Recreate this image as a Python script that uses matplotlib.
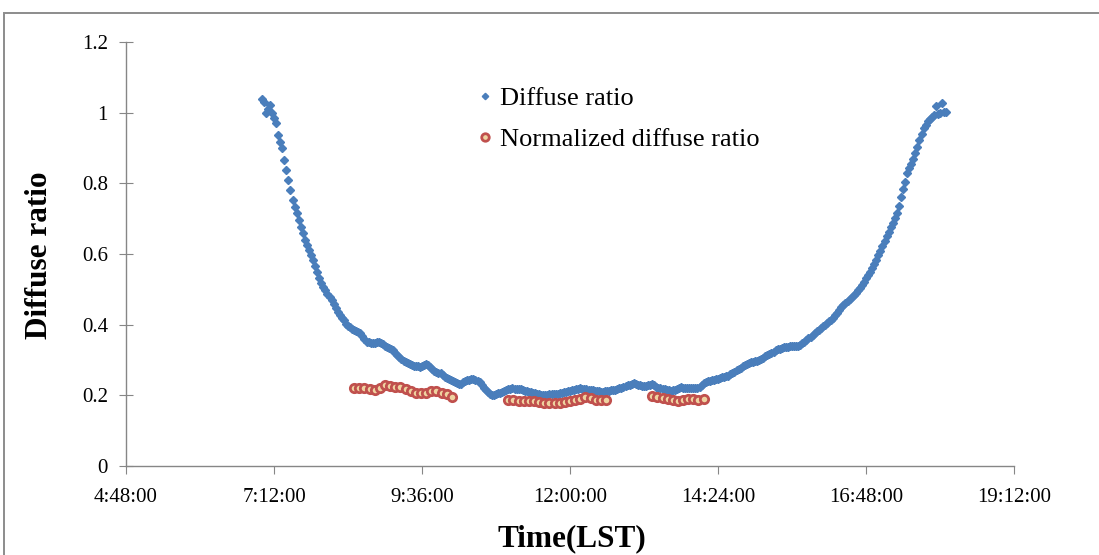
"""
Diffuse ratio vs. local solar time, with the normalized diffuse ratio
for the clear-sky windows.
"""

import matplotlib
matplotlib.use("Agg")
import matplotlib.pyplot as plt
import matplotlib.ticker as mticker
from matplotlib.patches import Rectangle
import numpy as np

# ── Data ────────────────────────────────────────────────────────────────────
# Diffuse ratio, read every 2 minutes starting 7:00 (minutes since midnight)
DIFF_START_MIN = 420
DIFF_STEP_MIN = 2

diffuse_morning = [  # 7:00 - 10:38
    1.038, 1.030, 1.000, 1.010, 1.022, 0.998, 0.985, 0.970, 0.937, 0.918,
    0.899, 0.866, 0.838, 0.810, 0.781, 0.753, 0.734, 0.715, 0.696, 0.677,
    0.659, 0.640, 0.626, 0.611, 0.597, 0.583, 0.566, 0.550, 0.533, 0.517,
    0.507, 0.498, 0.488, 0.479, 0.470, 0.459, 0.448, 0.437, 0.428, 0.420,
    0.412, 0.403, 0.397, 0.392, 0.387, 0.384, 0.381, 0.378, 0.376, 0.368,
    0.360, 0.352, 0.350, 0.348, 0.347, 0.349, 0.351, 0.352, 0.348, 0.344,
    0.341, 0.338, 0.335, 0.331, 0.328, 0.321, 0.315, 0.308, 0.303, 0.298,
    0.294, 0.291, 0.288, 0.286, 0.284, 0.283, 0.282, 0.281, 0.283, 0.286,
    0.289, 0.286, 0.280, 0.275, 0.270, 0.267, 0.264, 0.262, 0.257, 0.252,
    0.248, 0.245, 0.242, 0.240, 0.238, 0.235, 0.232, 0.233, 0.237, 0.241,
    0.243, 0.244, 0.245, 0.245, 0.243, 0.241, 0.239, 0.230, 0.220, 0.215,
]
diffuse_midday = [  # 10:40 - 14:18
    0.210, 0.205, 0.201, 0.202, 0.204, 0.206, 0.208, 0.210, 0.212, 0.215,
    0.217, 0.219, 0.220, 0.219, 0.218, 0.217, 0.217, 0.215, 0.213, 0.212,
    0.210, 0.209, 0.208, 0.206, 0.204, 0.203, 0.202, 0.201, 0.201, 0.202,
    0.203, 0.203, 0.204, 0.204, 0.205, 0.206, 0.207, 0.209, 0.210, 0.211,
    0.213, 0.214, 0.216, 0.218, 0.219, 0.220, 0.219, 0.218, 0.217, 0.216,
    0.215, 0.214, 0.213, 0.212, 0.211, 0.210, 0.210, 0.211, 0.212, 0.213,
    0.214, 0.215, 0.216, 0.218, 0.220, 0.222, 0.224, 0.226, 0.228, 0.230,
    0.232, 0.234, 0.232, 0.230, 0.228, 0.226, 0.226, 0.227, 0.229, 0.230,
    0.231, 0.228, 0.225, 0.222, 0.220, 0.218, 0.217, 0.216, 0.215, 0.213,
    0.214, 0.216, 0.219, 0.221, 0.223, 0.222, 0.222, 0.221, 0.221, 0.220,
    0.220, 0.220, 0.220, 0.225, 0.230, 0.235, 0.239, 0.240, 0.241, 0.243,
]
diffuse_afternoon = [  # 14:20 - 18:06
    0.244, 0.246, 0.247, 0.249, 0.251, 0.252, 0.254, 0.256, 0.261, 0.264,
    0.267, 0.271, 0.274, 0.278, 0.282, 0.286, 0.290, 0.292, 0.293, 0.294,
    0.296, 0.297, 0.300, 0.304, 0.307, 0.311, 0.314, 0.317, 0.320, 0.323,
    0.327, 0.330, 0.332, 0.334, 0.336, 0.337, 0.338, 0.339, 0.339, 0.340,
    0.340, 0.341, 0.342, 0.347, 0.352, 0.356, 0.361, 0.366, 0.371, 0.376,
    0.381, 0.385, 0.390, 0.395, 0.399, 0.404, 0.409, 0.413, 0.420, 0.427,
    0.434, 0.441, 0.449, 0.455, 0.461, 0.467, 0.472, 0.478, 0.485, 0.491,
    0.497, 0.504, 0.511, 0.521, 0.531, 0.540, 0.550, 0.561, 0.573, 0.584,
    0.596, 0.609, 0.623, 0.637, 0.650, 0.662, 0.675, 0.687, 0.702, 0.717,
    0.737, 0.760, 0.783, 0.805, 0.828, 0.842, 0.856, 0.869, 0.885, 0.904,
    0.922, 0.941, 0.956, 0.966, 0.975, 0.981, 0.987, 0.993, 1.019, 0.996,
    0.999, 1.027, 1.001, 1.003,
]

# Normalized diffuse ratio, every 5 minutes in three windows
NORM_STEP_MIN = 5
norm_starts_min = [510, 660, 800]  # 8:30, 11:00, 13:20
norm_win1 = [0.222, 0.222, 0.221, 0.218, 0.216, 0.222, 0.230, 0.226, 0.224, 0.225,
             0.217, 0.211, 0.207, 0.206, 0.208, 0.212, 0.211, 0.208, 0.203, 0.194]
norm_win2 = [0.186, 0.186, 0.185, 0.184, 0.184, 0.183, 0.181, 0.179, 0.177, 0.177,
             0.178, 0.180, 0.183, 0.187, 0.190, 0.194, 0.192, 0.188, 0.186, 0.186]
norm_win3 = [0.199, 0.196, 0.193, 0.190, 0.186, 0.185, 0.187, 0.189, 0.189, 0.188,
             0.191]

X_TICKS_H = [4.8, 7.2, 9.6, 12.0, 14.4, 16.8, 19.2]
Y_TICKS = [0, 0.2, 0.4, 0.6, 0.8, 1.0, 1.2]

# ── Build series ────────────────────────────────────────────────────────────
diffuse = np.array(diffuse_morning + diffuse_midday + diffuse_afternoon)
t_diff = (DIFF_START_MIN + DIFF_STEP_MIN * np.arange(len(diffuse))) / 60.0

norm_vals, norm_t = [], []
for start, win in zip(norm_starts_min, [norm_win1, norm_win2, norm_win3]):
    norm_vals.extend(win)
    norm_t.extend((start + NORM_STEP_MIN * np.arange(len(win))) / 60.0)

# ── Plot ────────────────────────────────────────────────────────────────────
plt.rcParams["font.family"] = ["Liberation Serif", "DejaVu Serif"]
AXIS_GRAY = "#868686"

fig = plt.figure(figsize=(10.99, 5.55), dpi=100)
ax = fig.add_axes([126 / 1099, 1 - 466 / 555, 888 / 1099, 424 / 555])

ax.plot(t_diff, diffuse, linestyle="none", marker="D", ms=3.6,
        color="#4a7ebb", mec="#4a7ebb", label="Diffuse ratio")
ax.plot(norm_t, norm_vals, linestyle="none", marker="o", ms=6.0,
        mfc="#efd3a0", mec="#c0504d", mew=2.0, label="Normalized diffuse ratio")

ax.set_xlim(4.8, 19.2)
ax.set_ylim(0, 1.2)
ax.set_xticks(X_TICKS_H)
ax.set_yticks(Y_TICKS)


def hms(x, _):
    total = int(round(x * 60))
    return f"{total // 60}:{total % 60:02d}:00"


ax.xaxis.set_major_formatter(mticker.FuncFormatter(hms))
ax.yaxis.set_major_formatter(mticker.FuncFormatter(lambda v, _: f"{v:g}"))

for side in ("top", "right"):
    ax.spines[side].set_visible(False)
for side in ("left", "bottom"):
    ax.spines[side].set_color(AXIS_GRAY)
    ax.spines[side].set_linewidth(1.0)

ax.tick_params(axis="x", direction="out", length=6, color=AXIS_GRAY,
               labelsize=15, pad=10)
ax.tick_params(axis="y", direction="inout", length=10, color=AXIS_GRAY,
               labelsize=15, pad=8)

ax.legend(loc="upper left", bbox_to_anchor=(0.38, 0.925), frameon=False,
          fontsize=19, handlelength=0.6, handletextpad=0.3,
          labelspacing=0.65, borderpad=0, markerscale=0.9)

fig.text(40 / 1099, 1 - 255 / 555, "Diffuse ratio", rotation=90,
         ha="center", va="center", fontsize=22.5, fontweight="bold")
fig.text(572 / 1099, 1 - 539 / 555, "Time(LST)",
         ha="center", va="center", fontsize=22.5, fontweight="bold")

# outer chart-area border (runs off the right and bottom edges)
fig.patches.append(Rectangle((4 / 1099, -0.05), 1.1, 1 - 13 / 555 + 0.05,
                             transform=fig.transFigure, fill=False,
                             ec="#8c8c8c", lw=1.4))

fig.savefig("out.png", dpi=100)
